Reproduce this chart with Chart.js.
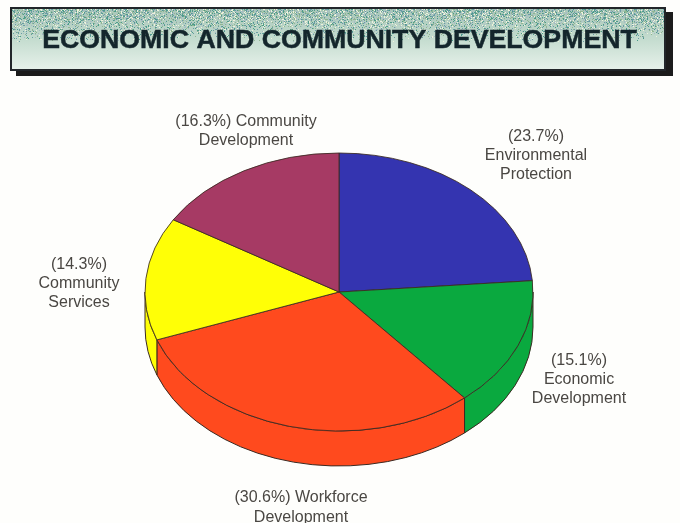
<!DOCTYPE html>
<html>
<head>
<meta charset="utf-8">
<style>
  html, body { margin: 0; padding: 0; background: #fefefc; }
  #wrap { position: relative; width: 680px; height: 523px; }
</style>
<script src="https://cdn.jsdelivr.net/npm/chart.js@4"></script>
</head>
<body>
<div id="wrap"><canvas id="pie" width="680" height="523"></canvas></div>
<script>
const titleText = 'ECONOMIC AND COMMUNITY DEVELOPMENT';
const programs = ['Environmental Protection', 'Economic Development', 'Workforce Development', 'Community Services', 'Community Development'];
const shares = [23.7, 15.1, 30.6, 14.3, 16.3];
const sliceColors = ['#3434b0', '#0aa93f', '#ff4a1e', '#ffff06', '#a63a64'];

// Caption words per slice; a leading 1 keeps the share on the first word's line.
const labelLines = [
  [0, 'Environmental', 'Protection'],
  [0, 'Economic', 'Development'],
  [1, 'Workforce', 'Development'],
  [0, 'Community', 'Services'],
  [1, 'Community', 'Development']
];
const labelAnchors = [
  { x: 536, y: 136.5 },
  { x: 579, y: 360.5 },
  { x: 301, y: 498 },
  { x: 79, y: 264.5 },
  { x: 246, y: 121.5 }
];

const PIE = { radius: 194, squash: 139 / 194, depth: 35, edge: '#3b2a22' };

// Header banner: drop shadow, dithered gradient panel and heading.
const bannerPlugin = {
  id: 'banner',
  beforeDraw(chart) {
    const c = chart.ctx;
    c.save();
    c.fillStyle = '#fefefc';
    c.fillRect(0, 0, chart.width, chart.height);
    c.fillStyle = '#1b1b1b';
    c.fillRect(16, 12, 657, 64);
    const g = c.createLinearGradient(0, 9, 0, 69);
    g.addColorStop(0, '#a8c6b8');
    g.addColorStop(0.5, '#c4dccf');
    g.addColorStop(1, '#e6f1ea');
    c.fillStyle = '#22262a';
    c.fillRect(10, 7, 656, 64);
    c.fillStyle = g;
    c.fillRect(12, 9, 652, 60);
    const speck = ['#4d9c8a', '#8fb592', '#a6bcc4', '#eef2dc', '#6a9ca4'];
    let seed = 12345;
    for (let y = 9; y < 42; y++) {
      const density = 0.6 * (1 - (y - 9) / 33);
      for (let x = 12; x < 664; x++) {
        seed = (seed * 1103515245 + 12345) & 0x7fffffff;
        const r = (seed >> 8) / 0x7fffff;
        if (r < density) {
          c.fillStyle = speck[(seed >> 4) % speck.length];
          c.fillRect(x, y, 1, 1);
        }
      }
    }
    c.fillStyle = '#14262c';
    c.strokeStyle = '#14262c';
    c.lineWidth = 0.5;
    c.font = 'bold 26.7px "Liberation Sans", Arial, sans-serif';
    c.textAlign = 'center';
    c.textBaseline = 'alphabetic';
    c.fillText(titleText, 339.5, 48);
    c.strokeText(titleText, 339.5, 48);
    c.restore();
  }
};

// Tilts the pie into an ellipse and draws the rim wall beneath its front half.
const tiltPlugin = {
  id: 'tilt',
  beforeDatasetsDraw(chart) {
    const c = chart.ctx;
    const arcs = chart.getDatasetMeta(0).data;
    const cx = arcs[0].x, cy = arcs[0].y;
    const rx = arcs[0].outerRadius, ry = rx * PIE.squash;
    c.save();
    arcs.forEach((arc, i) => {
      const a0 = Math.max(arc.startAngle, 0);
      const a1 = Math.min(arc.endAngle, Math.PI);
      if (a1 <= a0) return;
      c.beginPath();
      c.ellipse(cx, cy, rx, ry, 0, a0, a1);
      c.ellipse(cx, cy + PIE.depth, rx, ry, 0, a1, a0, true);
      c.closePath();
      c.fillStyle = sliceColors[i];
      c.fill();
      c.strokeStyle = PIE.edge;
      c.lineWidth = 1;
      c.stroke();
    });
    c.restore();
    c.save();
    c.translate(cx, cy);
    c.scale(1, PIE.squash);
    c.translate(-cx, -cy);
  },
  afterDatasetsDraw(chart) {
    chart.ctx.restore();
  }
};

// Percentage and program-name captions around the pie.
const captionPlugin = {
  id: 'captions',
  afterDraw(chart) {
    const c = chart.ctx;
    c.save();
    c.fillStyle = '#4a4743';
    c.font = '16px "Liberation Sans", Arial, sans-serif';
    c.textAlign = 'center';
    c.textBaseline = 'middle';
    shares.forEach((share, i) => {
      const pct = '(' + share.toFixed(1) + '%)';
      const words = labelLines[i];
      const lines = words[0] === 1
        ? [pct + ' ' + words[1], words[2]]
        : [pct, words[1], words[2]];
      lines.forEach((line, n) => {
        c.fillText(line, labelAnchors[i].x, labelAnchors[i].y + n * 19.2);
      });
    });
    c.restore();
  }
};

new Chart(document.getElementById('pie'), {
  type: 'pie',
  data: {
    labels: programs,
    datasets: [{
      data: shares,
      backgroundColor: sliceColors,
      borderColor: PIE.edge,
      borderWidth: 1,
      borderAlign: 'center',
      radius: PIE.radius
    }]
  },
  options: {
    responsive: false,
    animation: false,
    layout: { padding: { top: 61, right: 2 } },
    plugins: { legend: { display: false }, tooltip: { enabled: false }, title: { display: false } }
  },
  plugins: [bannerPlugin, tiltPlugin, captionPlugin]
});
</script>
</body>
</html>
